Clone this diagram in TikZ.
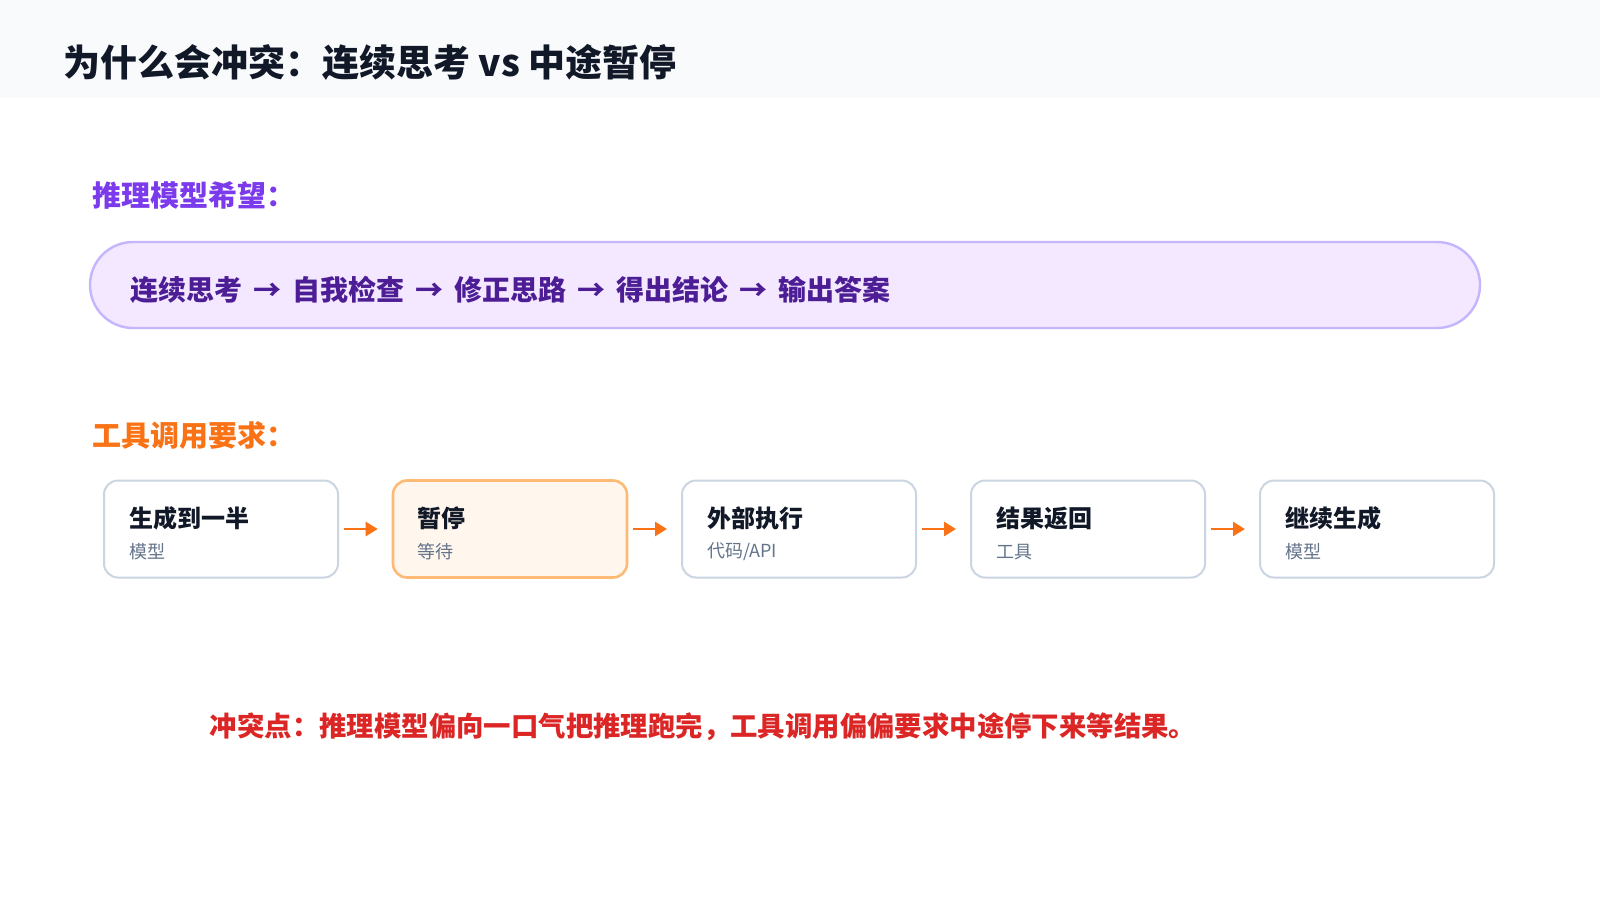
\documentclass[tikz,border=0pt]{standalone}
\usepackage{fontspec}
\setmainfont{Noto Sans CJK SC}
\usetikzlibrary{arrows.meta,positioning}
\definecolor{headbg}{HTML}{F8FAFC}
\definecolor{titlec}{HTML}{111827}
\definecolor{purplec}{HTML}{7C3AED}
\definecolor{pillfill}{HTML}{F3E8FF}
\definecolor{pilldraw}{HTML}{C4B5FD}
\definecolor{pilltext}{HTML}{4C1D95}
\definecolor{orangec}{HTML}{F97316}
\definecolor{stepdraw}{HTML}{CBD5E1}
\definecolor{pausefill}{HTML}{FFF7ED}
\definecolor{pausedraw}{HTML}{FDBA74}
\definecolor{subc}{HTML}{64748B}
\definecolor{redc}{HTML}{DC2626}
\tikzset{
  stage/.style={draw=stepdraw,line width=1pt,fill=white,rounded corners=7pt,
    minimum width=117pt,minimum height=48.5pt,inner sep=0pt},
  pause/.style={stage,draw=pausedraw,fill=pausefill,line width=1.3pt},
  stagetitle/.style={anchor=west,font=\fontsize{12}{14}\selectfont\bfseries,text=titlec},
  stagesub/.style={anchor=west,font=\fontsize{9}{11}\selectfont,text=subc},
  flow/.style={-{Triangle[length=6pt,width=7pt]},draw=orangec,line width=1.3pt}
}
\begin{document}
\begin{tikzpicture}[x=0.5pt,y=-0.5pt]
  \useasboundingbox (0,0) rectangle (1600,900);
  \fill[white] (0,0) rectangle (1600,900);
  \fill[headbg] (0,0) rectangle (1600,98);
  \node[anchor=west,text=titlec,font=\fontsize{18.5}{22}\selectfont\bfseries] (title) at (56,62)
    {为什么会冲突：连续思考 vs 中途暂停};
  % reasoning model
  \node[anchor=west,text=purplec,font=\fontsize{14.5}{17}\selectfont\bfseries] (hope) at (85,195)
    {推理模型希望：};
  \draw[fill=pillfill,draw=pilldraw,line width=1.2pt,rounded corners=21.5pt] (90,242) rectangle (1480,328);
  \node[anchor=west,text=pilltext,font=\fontsize{14}{17}\selectfont\bfseries] (chain) at (123,290)
    {连续思考 \,→\, 自我检查 \,→\, 修正思路 \,→\, 得出结论 \,→\, 输出答案};
  % tool calling
  \node[anchor=west,text=orangec,font=\fontsize{14.5}{17}\selectfont\bfseries] (req) at (85,435)
    {工具调用要求：};
  \node[stage] (s1) at (221,529) {};
  \node[pause] (s2) at (510,529) {};
  \node[stage] (s3) at (799,529) {};
  \node[stage] (s4) at (1088,529) {};
  \node[stage] (s5) at (1377,529) {};
  \foreach \n/\t/\s in {s1/生成到一半/模型,s2/暂停/等待,s3/外部执行/{代码/API},s4/结果返回/工具,s5/继续生成/模型}{
    \node[stagetitle] at ([xshift=9.5pt,yshift=5.5pt]\n.west) {\t};
    \node[stagesub] at ([xshift=9.5pt,yshift=-11.5pt]\n.west) {\s};
  }
  \foreach \a/\b in {s1/s2,s2/s3,s3/s4,s4/s5}
    \draw[flow] ([xshift=2.5pt]\a.east) -- ([xshift=-7pt]\b.west);
  \node[text=redc,font=\fontsize{13.7}{16}\selectfont\bfseries] (conflict) at (703,727)
    {冲突点：推理模型偏向一口气把推理跑完，工具调用偏偏要求中途停下来等结果。};
\end{tikzpicture}
\end{document}
